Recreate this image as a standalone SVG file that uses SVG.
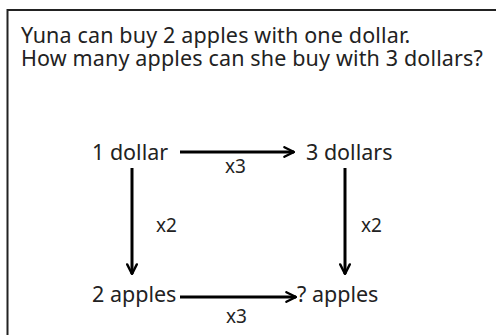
<svg xmlns="http://www.w3.org/2000/svg" width="496" height="335" viewBox="0 0 496 335">
<defs>
<marker id="ah" viewBox="0 0 10 10" refX="9" refY="5" markerWidth="4" markerHeight="4" markerUnits="strokeWidth" orient="auto">
<path d="M1,1 L9,5 L1,9" fill="none" stroke="#000" stroke-width="2" stroke-linecap="round" stroke-linejoin="round"/>
</marker>
<style>
text{font-family:"Noto Sans","Liberation Sans",sans-serif;fill:#222}
.q{font-size:21.5px;letter-spacing:0.15px}
.n{font-size:21.5px}
.l{font-size:19px}
.c{stroke:#000;stroke-width:3;fill:none;marker-end:url(#ah)}
</style>
</defs>
<rect x="0" y="0" width="496" height="335" fill="#fff"/>
<rect x="7.5" y="10" width="500" height="340" fill="none" stroke="#222" stroke-width="2"/>
<g id="question">
<text class="q" x="21" y="43">Yuna can buy 2 apples with one dollar.</text>
<text class="q" x="21" y="66">How many apples can she buy with 3 dollars?</text>
</g>
<g id="n1"><text class="n" x="92" y="160">1 dollar</text></g>
<g id="n2"><text class="n" x="306" y="160">3 dollars</text></g>
<g id="n3"><text class="n" x="92" y="302">2 apples</text></g>
<g id="n4"><text class="n" x="297" y="302">? apples</text></g>
<g id="connectors">
<line class="c" x1="180" y1="152" x2="294" y2="152"/>
<line class="c" x1="132" y1="168" x2="132" y2="274"/>
<line class="c" x1="345" y1="168" x2="345" y2="274"/>
<line class="c" x1="180" y1="297" x2="296" y2="297"/>
<text class="l" x="225" y="173">x3</text>
<text class="l" x="156" y="232">x2</text>
<text class="l" x="361" y="232">x2</text>
<text class="l" x="226" y="323">x3</text>
</g>
</svg>
